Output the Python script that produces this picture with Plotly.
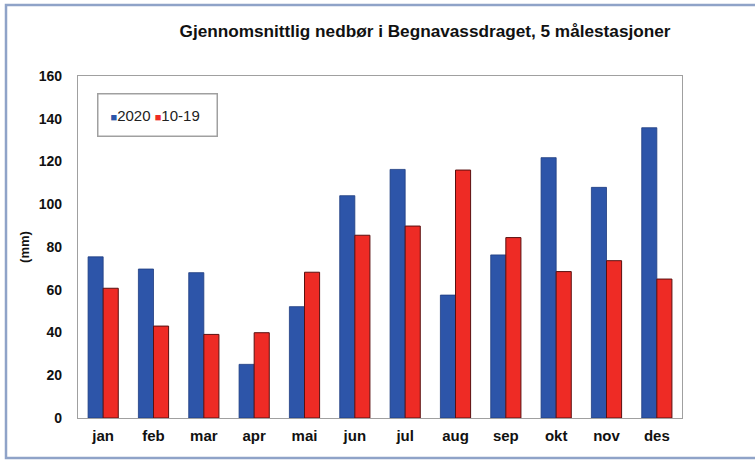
import plotly.graph_objects as go

months = ["jan", "feb", "mar", "apr", "mai", "jun", "jul", "aug", "sep", "okt", "nov", "des"]
values_2020 = [75.4, 69.7, 68.0, 25.1, 52.1, 104.0, 116.3, 57.5, 76.3, 121.8, 107.9, 135.8]
values_1019 = [60.7, 43.0, 39.1, 39.9, 68.2, 85.5, 89.8, 116.0, 84.4, 68.5, 73.6, 65.0]
y_ticks = [0, 20, 40, 60, 80, 100, 120, 140, 160]

BLUE = "#2D55A9"
RED = "#EE2B25"

W, H = 755, 461
L, R, T, B = 78, 73, 76, 43
PW, PH = W - L - R, H - T - B

fig = go.Figure()
fig.add_trace(go.Bar(x=months, y=values_2020, name="2020",
                     marker=dict(color=BLUE, line=dict(color="#1E3C80", width=0.8))))
fig.add_trace(go.Bar(x=months, y=values_1019, name="10-19",
                     marker=dict(color=RED, line=dict(color="#5A1010", width=1))))

fig.update_layout(
    width=W, height=H,
    margin=dict(l=L, r=R, t=T, b=B),
    paper_bgcolor="white", plot_bgcolor="white",
    barmode="group", bargap=0.4, bargroupgap=0,
    font=dict(family="Liberation Sans, Arial, sans-serif", color="#111111"),
    title=dict(text="<b>Gjennomsnittlig nedbør i Begnavassdraget, 5 målestasjoner</b>",
               x=(425 - L) / PW, xanchor="center", xref="paper",
               y=1 - 31 / H, yanchor="middle", yref="container",
               font=dict(size=17.2, color="#111111")),
    showlegend=False,
    xaxis=dict(showline=True, linecolor="#A0A0A0", linewidth=1.2, mirror=True,
               ticks="", tickfont=dict(size=15, color="#111111"),
               tickvals=months, ticktext=["<b>%s</b>" % m for m in months],
               ticklabelstandoff=4, fixedrange=True),
    yaxis=dict(range=[0, 160], tickvals=y_ticks,
               ticktext=["<b>%d</b>" % v for v in y_ticks],
               showgrid=False, zeroline=False,
               showline=True, linecolor="#A0A0A0", linewidth=1.2, mirror=True,
               ticks="", ticklabelstandoff=12, tickfont=dict(size=14, color="#111111"),
               title=dict(text="<b>(mm)</b>", font=dict(size=13, color="#111111"), standoff=6),
               fixedrange=True),
)

# legend box (compact, as in the reference)
legend_text = ("<span style='color:%s;font-size:11px'>■</span>2020 "
               "<span style='color:%s;font-size:11px'>■</span>10-19") % (BLUE, RED)
fig.add_annotation(xref="paper", yref="paper", x=(97 - L) / PW, y=(H - B - 93) / PH,
                   xanchor="left", yanchor="top", showarrow=False, align="left",
                   text=legend_text, font=dict(size=15, color="#222222"),
                   bgcolor="white", bordercolor="#A0A0A0", borderwidth=1.5,
                   borderpad=12, width=94)

# outer frame
fig.add_shape(type="rect", xref="paper", yref="paper",
              x0=(6 - L) / PW, x1=(762 - L) / PW,
              y0=(H - B - 458) / PH, y1=(H - B - 5) / PH,
              line=dict(color="#8FA3C8", width=2.5), fillcolor="rgba(0,0,0,0)", layer="below")

fig.write_html("out.html", config={"displayModeBar": False},
               post_script="document.body.style.margin='0';document.body.style.padding='0';")
